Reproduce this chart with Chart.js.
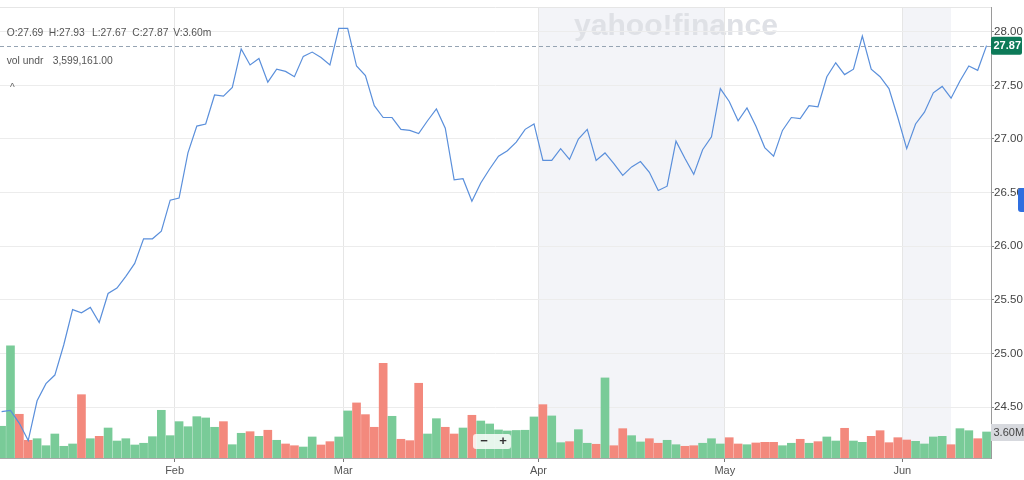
<!DOCTYPE html>
<html>
<head>
<meta charset="utf-8">
<script src="https://cdn.jsdelivr.net/npm/chart.js@4.4.0/dist/chart.umd.min.js"></script>
<style>
  html, body { margin: 0; padding: 0; background: #fff; }
  #wrap { width: 1024px; height: 480px; position: relative; }
</style>
</head>
<body>
<div id="wrap"><canvas id="chart"></canvas></div>
<script>
// ---- data (one entry per trading day) ----
const closePrices = [
  24.46, 24.47, 24.35, 24.19, 24.56, 24.72, 24.80, 25.08, 25.41, 25.38,
  25.43, 25.29, 25.56, 25.61, 25.72, 25.84, 26.07, 26.07, 26.14, 26.43,
  26.45, 26.87, 27.12, 27.14, 27.41, 27.40, 27.48, 27.84, 27.69, 27.75,
  27.53, 27.65, 27.63, 27.58, 27.77, 27.81, 27.76, 27.69, 28.03, 28.03,
  27.68, 27.59, 27.31, 27.20, 27.20, 27.09, 27.08, 27.05, 27.17, 27.28,
  27.10, 26.62, 26.63, 26.42, 26.59, 26.72, 26.84, 26.89, 26.97, 27.09,
  27.14, 26.80, 26.80, 26.91, 26.81, 27.00, 27.09, 26.80, 26.87, 26.77,
  26.66, 26.74, 26.79, 26.69, 26.52, 26.56, 26.98, 26.82, 26.67, 26.90,
  27.02, 27.47, 27.35, 27.17, 27.29, 27.12, 26.92, 26.84, 27.08, 27.20,
  27.19, 27.31, 27.30, 27.58, 27.71, 27.60, 27.65, 27.96, 27.65, 27.58,
  27.47, 27.20, 26.91, 27.14, 27.25, 27.43, 27.49, 27.38, 27.54, 27.68,
  27.64, 27.87
];

// volume in millions
const volumeM = [
  4.39, 15.51, 6.05, 2.45, 2.67, 1.70, 3.32, 1.62, 1.94, 8.76,
  2.67, 3.00, 4.15, 2.35, 2.67, 1.80, 2.04, 2.95, 6.60, 3.09,
  5.03, 4.33, 5.72, 5.54, 4.25, 5.03, 1.84, 3.42, 3.64, 3.00,
  3.84, 2.45, 1.94, 1.70, 1.52, 2.91, 1.80, 2.26, 2.91, 6.51,
  7.62, 6.00, 4.25, 13.11, 5.77, 2.59, 2.40, 10.34, 3.32, 5.44,
  4.25, 3.32, 4.15, 5.91, 5.12, 4.71, 3.88, 3.74, 3.81, 3.84,
  5.68, 7.38, 5.82, 2.12, 2.26, 3.92, 2.04, 1.90, 11.08, 1.70,
  4.06, 3.09, 2.22, 2.67, 2.04, 2.45, 1.84, 1.62, 1.70, 2.04,
  2.67, 1.94, 2.81, 1.94, 1.84, 2.08, 2.17, 2.17, 1.70, 2.04,
  2.59, 2.04, 2.26, 2.91, 2.35, 4.11, 2.35, 2.17, 3.00, 3.78,
  2.12, 2.81, 2.49, 2.31, 1.94, 2.91, 3.00, 1.84, 4.06, 3.78,
  2.67, 3.60
];

// 1 = up day (green bar), 0 = down day (red bar)
const volumeUp = [
  1, 1, 0, 0, 1, 1, 1, 1, 1, 0,
  1, 0, 1, 1, 1, 1, 1, 1, 1, 1,
  1, 1, 1, 1, 1, 0, 1, 1, 0, 1,
  0, 1, 0, 0, 1, 1, 0, 0, 1, 1,
  0, 0, 0, 0, 1, 0, 0, 0, 1, 1,
  0, 0, 1, 0, 1, 1, 1, 1, 1, 1,
  1, 0, 1, 1, 0, 1, 1, 0, 1, 0,
  0, 1, 1, 0, 0, 1, 1, 0, 0, 1,
  1, 1, 0, 0, 1, 0, 0, 0, 1, 1,
  0, 1, 0, 1, 1, 0, 1, 1, 0, 0,
  0, 0, 0, 1, 1, 1, 1, 0, 1, 1,
  0, 1
];

const monthLabels = ['Feb', 'Mar', 'Apr', 'May', 'Jun'];
const monthStartIdx = [20, 39, 61, 82, 102];
const priceTicks = [24.5, 25.0, 25.5, 26.0, 26.5, 27.0, 27.5, 28.0];

const lastClose = 27.87;
const lastVolumeLabel = '3.60M';
const ohlcText = [['O:27.69', 6.7], ['H:27.93', 48.7], ['L:27.67', 92], ['C:27.87', 132.3], ['V:3.60m', 173.3]];

// shaded session bands, in bar-index units
const shadeBands = [[60.5, 81.5], [101.5, 107]];

const FONT = "'Liberation Sans', Arial, Helvetica, sans-serif";
const GREEN = '#79cb98';
const RED = '#f3897d';

// ---- overlay plugin: bands, watermark, last price line, tags, legend text ----
const overlay = {
  id: 'overlay',
  beforeDraw(chart) {
    const { ctx, chartArea: a, scales: { x } } = chart;
    ctx.save();
    ctx.fillStyle = '#f3f4f8';
    shadeBands.forEach(([s, e]) => {
      const x0 = x.getPixelForValue(s), x1 = x.getPixelForValue(e);
      ctx.fillRect(x0, a.top, x1 - x0, a.bottom - a.top);
    });
    // top frame line
    ctx.strokeStyle = '#e6e6e6';
    ctx.lineWidth = 1;
    ctx.beginPath();
    ctx.moveTo(a.left, a.top + 0.5);
    ctx.lineTo(a.right, a.top + 0.5);
    ctx.stroke();
    // watermark
    ctx.font = `bold 30px ${FONT}`;
    const w = ctx.measureText('yahoo!finance').width;
    const size = 30 * 204 / w;
    ctx.font = `bold ${size}px ${FONT}`;
    ctx.fillStyle = '#dfe1e6';
    ctx.textBaseline = 'alphabetic';
    ctx.fillText('yahoo!finance', 574, 35);
    ctx.restore();
  },
  beforeDatasetsDraw(chart) {
    const { ctx, chartArea: a, scales: { y } } = chart;
    const py = Math.round(y.getPixelForValue(lastClose)) + 0.5;
    ctx.save();
    ctx.strokeStyle = '#96a4b3';
    ctx.lineWidth = 1;
    ctx.setLineDash([4, 3]);
    ctx.beginPath();
    ctx.moveTo(a.left, py);
    ctx.lineTo(a.right, py);
    ctx.stroke();
    ctx.restore();
  },
  afterDraw(chart) {
    const { ctx, chartArea: a, scales: { y, vol } } = chart;
    ctx.save();
    // last price tag
    const py = y.getPixelForValue(lastClose);
    ctx.fillStyle = '#0d7a58';
    ctx.beginPath();
    ctx.roundRect(a.right, py - 9, 31, 18, 2);
    ctx.fill();
    ctx.fillStyle = '#fff';
    ctx.font = `bold 11px ${FONT}`;
    ctx.textBaseline = 'middle';
    ctx.textAlign = 'left';
    ctx.fillText(lastClose.toFixed(2), a.right + 2.5, py + 0.5);
    // last volume tag
    const vy = vol.getPixelForValue(volumeM[volumeM.length - 1]);
    ctx.fillStyle = '#d7d9de';
    ctx.fillRect(a.right, vy - 8, 1024 - a.right, 17);
    ctx.fillStyle = '#444';
    ctx.font = `11px ${FONT}`;
    ctx.fillText(lastVolumeLabel, a.right + 2.5, vy + 0.5);
    // side tab
    ctx.fillStyle = '#2f6fe0';
    ctx.beginPath();
    ctx.roundRect(1018, 188, 10, 24, 3);
    ctx.fill();
    // legend text
    ctx.fillStyle = '#555';
    ctx.font = `10.3px ${FONT}`;
    ohlcText.forEach(([t, tx]) => ctx.fillText(t, tx, 33.5));
    ctx.fillText('vol undr', 6.7, 61.5);
    ctx.fillText('3,599,161.00', 52.7, 61.5);
    ctx.font = `10px ${FONT}`;
    ctx.fillStyle = '#666';
    ctx.fillText('^', 10, 88);
    // zoom control
    ctx.fillStyle = 'rgba(255,255,255,0.82)';
    ctx.beginPath();
    ctx.roundRect(473, 434, 38, 15, 3);
    ctx.fill();
    ctx.fillStyle = '#333';
    ctx.font = `bold 13px ${FONT}`;
    ctx.textAlign = 'center';
    ctx.fillText('\u2212', 484, 441.5);
    ctx.fillText('+', 503, 441.5);
    ctx.restore();
  }
};

new Chart(document.getElementById('chart'), {
  data: {
    datasets: [
      {
        type: 'line',
        data: closePrices.map((v, i) => ({ x: i, y: v })),
        yAxisID: 'y',
        borderColor: '#5a8fdb',
        borderWidth: 1.2,
        pointRadius: 0,
        tension: 0,
        order: 1,
      },
      {
        type: 'bar',
        data: volumeM.map((v, i) => ({ x: i, y: v })),
        yAxisID: 'vol',
        backgroundColor: volumeUp.map((u) => (u ? GREEN : RED)),
        borderWidth: 0,
        barThickness: 8,
        order: 2,
      },
    ],
  },
  options: {
    responsive: true,
    maintainAspectRatio: false,
    animation: false,
    layout: { padding: { top: 7, left: 0, right: 0, bottom: 0 } },
    plugins: { legend: { display: false }, tooltip: { enabled: false } },
    scales: {
      x: {
        type: 'linear',
        min: -0.18,
        max: 111.5,
        offset: false,
        afterBuildTicks: (s) => { s.ticks = monthStartIdx.map((i) => ({ value: i - 0.5 })); },
        afterFit: (s) => { s.height = 22; },
        ticks: {
          autoSkip: false,
          maxRotation: 0,
          padding: 2,
          color: '#555',
          font: { family: FONT, size: 11 },
          callback: (v) => monthLabels[monthStartIdx.indexOf(Math.round(v + 0.5))],
        },
        grid: { offset: false, color: '#e6e6e6', tickColor: '#777', tickLength: 4 },
        border: { color: '#a8a8a8' },
      },
      y: {
        position: 'right',
        min: 24.027,
        max: 28.23,
        afterBuildTicks: (s) => { s.ticks = priceTicks.map((v) => ({ value: v })); },
        afterFit: (s) => { s.width = 33; },
        ticks: {
          padding: 0,
          color: '#444',
          font: { family: FONT, size: 11.5 },
          callback: (v) => Number(v).toFixed(2),
        },
        grid: { color: '#ececec', tickColor: '#888', tickLength: 3 },
        border: { color: '#9a9a9a' },
      },
      vol: {
        display: false,
        min: 0,
        max: 62.4,
      },
    },
  },
  plugins: [overlay],
});
</script>
</body>
</html>
